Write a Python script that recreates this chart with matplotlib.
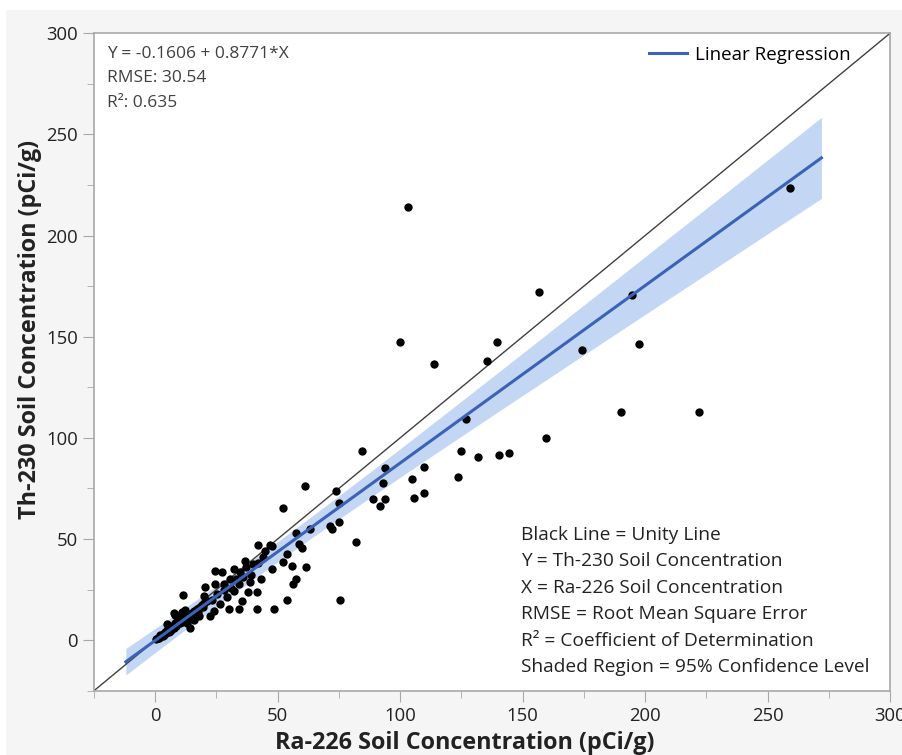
import numpy as np
import matplotlib
matplotlib.use("Agg")
import matplotlib.pyplot as plt
from matplotlib.patches import Rectangle
from matplotlib.ticker import MultipleLocator

plt.rcParams['font.family'] = ['Open Sans', 'DejaVu Sans']

# Ra-226 (x) and Th-230 (y) soil concentrations, pCi/g
ra226 = [259, 103, 156.6, 194.6, 197.4, 174.4, 100, 139.7, 135.6, 113.9,
         190, 222, 126.9, 159.6, 84.4, 124.8, 131.7, 140.5, 144.6, 109.8,
         93.9, 93.1, 104.9, 123.8, 109.8, 105.7, 93.9, 91.8, 89, 73.9,
         75.2, 61.1, 52, 63.3, 71.4, 72.2, 75.1, 82, 57.4, 47.5,
         58.5, 59.9, 53.7, 52.1, 55.8, 61.5, 47.5, 57.3, 56.4, 53.7,
         75.6, 48.6, 41.9, 46.9, 36.7, 40.1, 24.5, 27.2, 34.7, 30.6,
         38.8, 34, 27.9, 41.5, 32, 25.2, 29.3, 35.4, 26.5, 34,
         30, 41.5, 23.8, 22.4, 20.4, 11.3, 7.5, 10.9, 14.3, 24.5,
         37, 39, 42, 44, 33, 36, 31, 28, 38, 43,
         45, 32, 0.3, 1, 1.5, 2, 2.5, 3, 3.5, 4,
         4.5, 5, 5.5, 6, 6.5, 7, 7.5, 8, 8.5, 9,
         9.5, 10, 10.5, 11, 12, 12.5, 13, 14, 15, 16,
         17, 18, 19, 20, 21, 8, 12, 16, 18, 5,
         9, 13, 20, 23, 3, 6, 11, 14.5, 17.5, 19.5]
th230 = [223.5, 214, 172.3, 170.4, 146.3, 143.5, 147.5, 147.5, 138, 136.3,
         112.6, 112.6, 109.4, 99.7, 93.6, 93.7, 90.4, 91.6, 92.6, 85.6,
         85, 77.6, 79.5, 80.5, 72.6, 70.5, 69.6, 66.5, 69.6, 73.6,
         67.6, 76.4, 65.5, 55, 56.6, 55, 58.6, 48.3, 52.8, 46.4,
         47.4, 45.5, 42.8, 38.8, 36.6, 36.1, 35.1, 30.2, 27.7, 20,
         19.7, 15.2, 47.2, 47.2, 39.3, 37.6, 34.3, 33.5, 33.5, 30.2,
         28.6, 27.7, 27.7, 23.6, 24.4, 22.8, 21.1, 19.5, 17.8, 15.3,
         15.3, 15.3, 14.5, 12, 26.2, 22.4, 13.2, 13.7, 5.8, 27.7,
         36, 32, 38, 41, 30, 31, 26, 25, 24, 30,
         44, 35, 0.5, 1.2, 1, 2.5, 1.8, 3.2, 2.6, 4,
         3.5, 5.2, 4.2, 6, 5, 7.2, 6, 8.5, 6.8, 8,
         9.5, 8.5, 10.2, 9.2, 11, 10, 12.5, 12, 13.5, 14.5,
         15.2, 16, 17.5, 18.5, 19.5, 12.5, 15, 10, 12, 8,
         11.5, 8.5, 22, 20, 2, 4.5, 10.5, 13, 14, 16.5]

# Regression summary as printed on the chart
intercept = -0.1606
slope = 0.8771
rmse = 30.54
r2 = 0.635
# Fit support (estimated): number of samples, mean of X, sum of squares of X, t value
n_obs = 150
x_mean = 40.0
sxx = 519500.0
t_crit = 1.976
fit_range = [-12, 272]

stats_lines = [f"Y = {intercept} + {slope}*X", f"RMSE: {rmse}", f"R\u00b2: {r2}"]
notes = ["Black Line = Unity Line",
         "Y = Th-230 Soil Concentration",
         "X = Ra-226 Soil Concentration",
         "RMSE = Root Mean Square Error",
         "R\u00b2 = Coefficient of Determination",
         "Shaded Region = 95% Confidence Level"]

fig = plt.figure(figsize=(9.02, 7.55), dpi=100)
fig.patch.set_facecolor('white')
fig.patches.append(Rectangle((6 / 902, 0), 1, 1 - 10 / 755, transform=fig.transFigure,
                             facecolor='#f5f5f5', edgecolor='none', zorder=-10))

ax_h = (690.7 - 33.3) / 755
ax = fig.add_axes([94 / 902, 1 - 690.7 / 755, (890 - 94) / 902, ax_h])
ax.set_facecolor('white')
ax.set_xlim(-25, 300)
ax.set_ylim(-25, 300)

# confidence band and regression line
xf = np.linspace(fit_range[0], fit_range[1], 200)
yf = intercept + slope * xf
hw = t_crit * rmse * np.sqrt(1 / n_obs + (xf - x_mean) ** 2 / sxx)
ax.fill_between(xf, yf - hw, yf + hw, color='#c3d6f3', lw=0, zorder=1)
# unity line
ax.plot([-25, 300], [-25, 300], color='#404040', lw=1.0, zorder=2)
ax.plot(xf, yf, color='#3a62b6', lw=2.2, zorder=4, label='Linear Regression')
ax.scatter(ra226, th230, s=36, color='black', zorder=3, linewidths=0)

for sp in ax.spines.values():
    sp.set_color('#a8a8a8')
    sp.set_linewidth(1.2)
ax.xaxis.set_major_locator(MultipleLocator(50))
ax.xaxis.set_minor_locator(MultipleLocator(25))
ax.yaxis.set_major_locator(MultipleLocator(50))
ax.yaxis.set_minor_locator(MultipleLocator(25))
ax.tick_params(which='both', direction='out', color='#a8a8a8', labelcolor='#222222',
               labelsize=13.3)
ax.tick_params(which='major', length=8)
ax.tick_params(which='minor', length=5)

fig.text(465 / 902, 1 - 743 / 755, 'Ra-226 Soil Concentration (pCi/g)', fontsize=16.8,
         fontweight='bold', color='#222222', ha='center', va='center')
fig.text(30 / 902, 1 - 329 / 755, 'Th-230 Soil Concentration (pCi/g)', fontsize=16.8,
         fontweight='bold', color='#222222', ha='center', va='center', rotation=90)

px = 1 / 657.4
for i, s in enumerate(stats_lines):
    ax.text(0.0163, 1 - (54 - 33.3 + 24.5 * i) * px, s, transform=ax.transAxes,
            va='center', ha='left', fontsize=12.5, color='#404040')

for i, s in enumerate(notes):
    ax.text(0.5364, 1 - (535 - 33.3 + 26.4 * i) * px, s, transform=ax.transAxes,
            va='center', ha='left', fontsize=13.8, color='#222222')

leg = ax.legend(loc='center right', bbox_to_anchor=(0.951, 0.967), frameon=False,
                fontsize=13.5, handlelength=2.0, borderaxespad=0, borderpad=0,
                handletextpad=0.45)

fig.savefig('out.png', dpi=100, facecolor=fig.get_facecolor())
